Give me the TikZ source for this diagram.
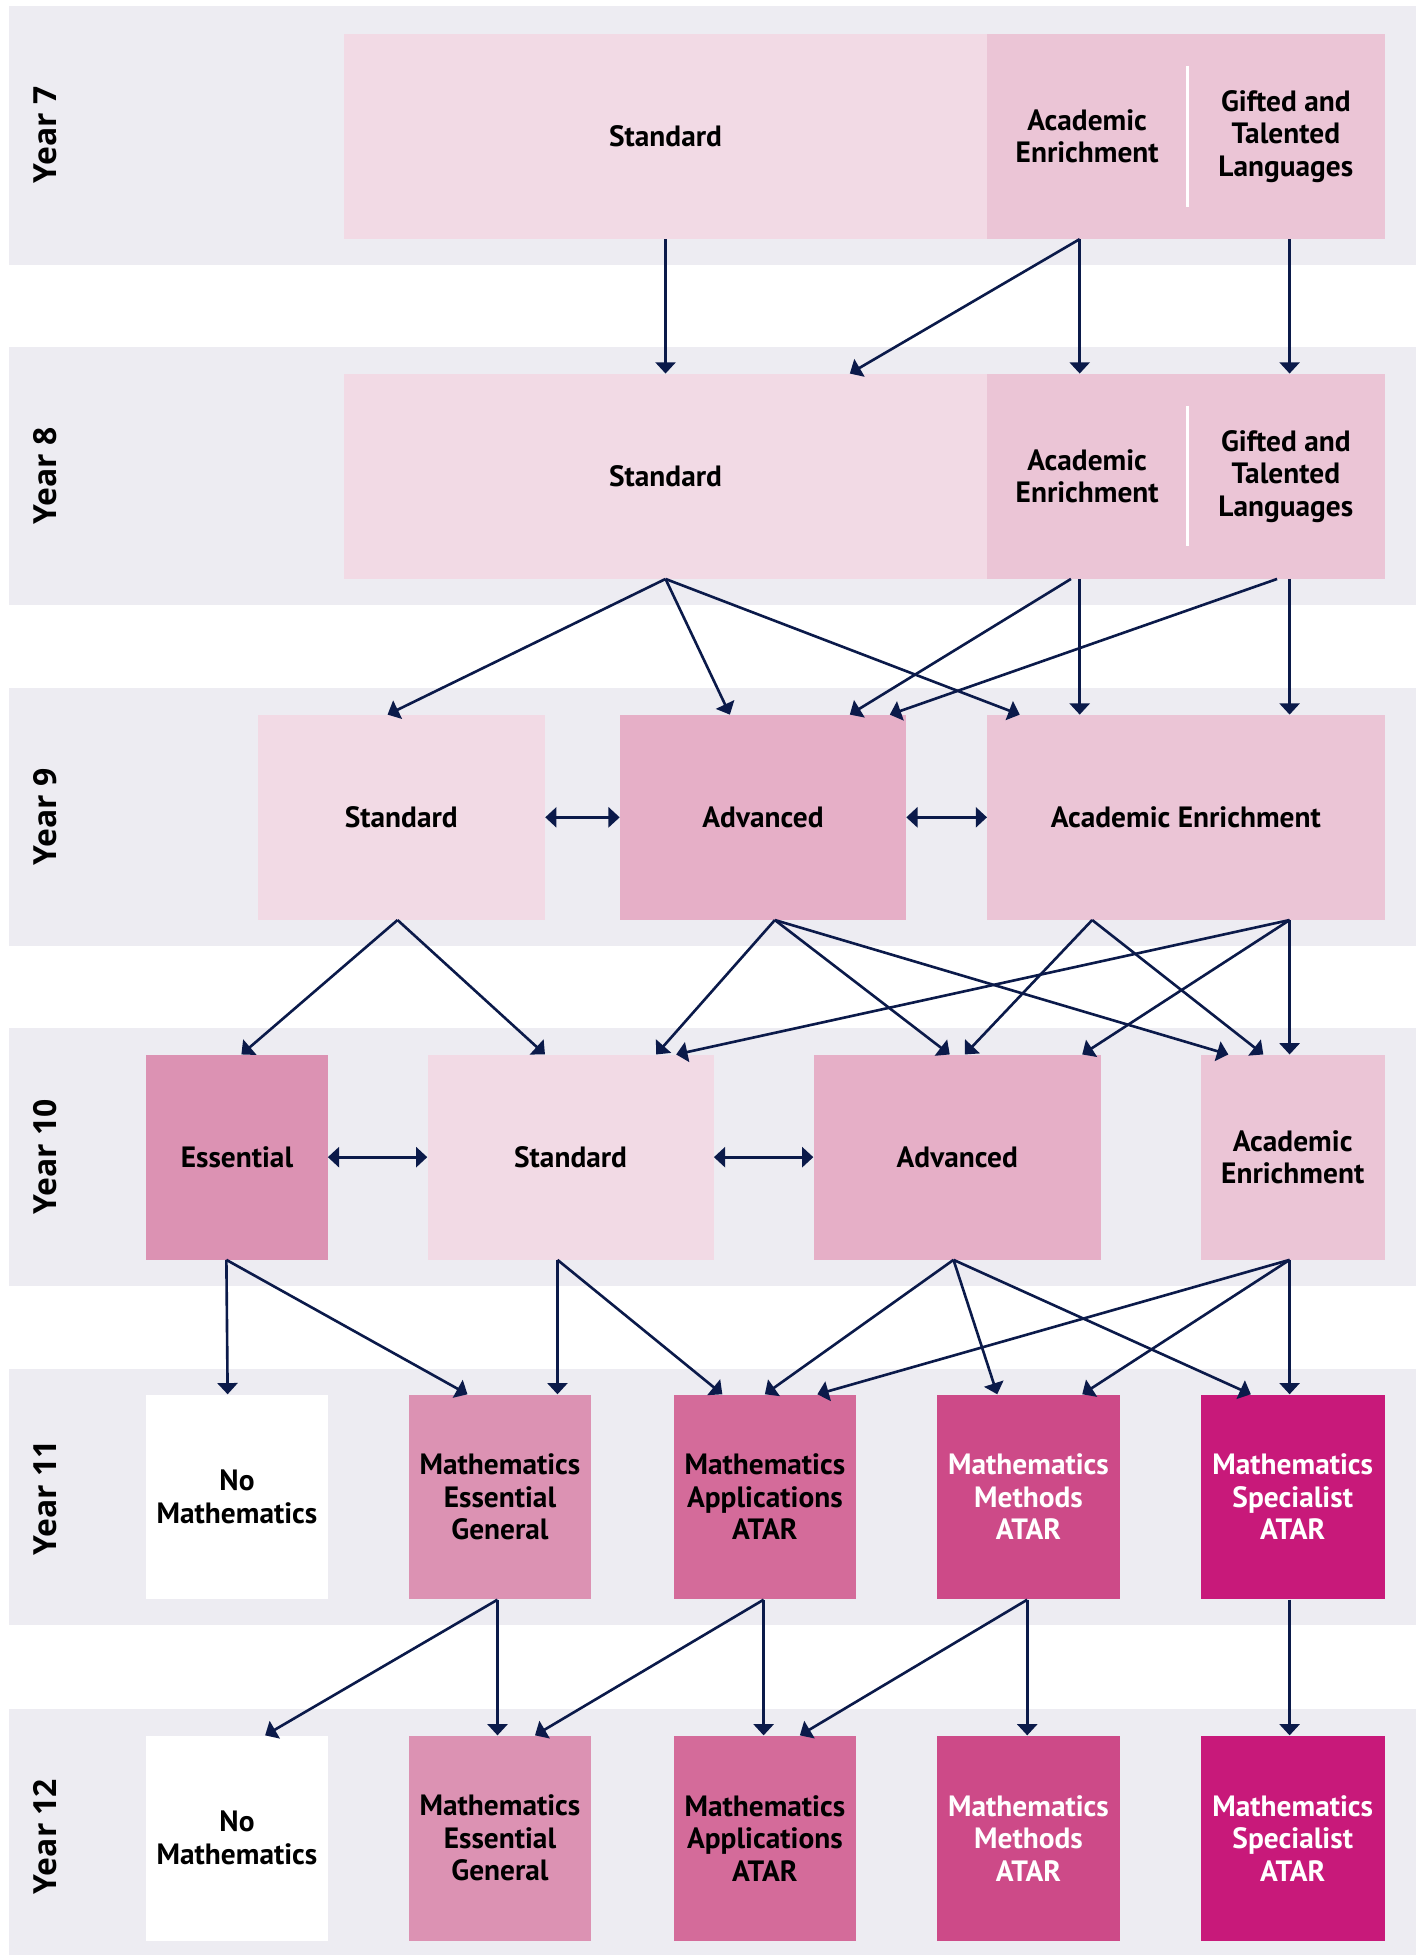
\documentclass[tikz,border=0pt]{standalone}
\usepackage{fontspec}
\setmainfont{PT Sans}
\newfontfamily\yearfont{Open Sans}
\usetikzlibrary{arrows.meta}

\definecolor{bandgray}{HTML}{EDECF2}
\definecolor{pinkA}{HTML}{F2DAE5}
\definecolor{pinkB}{HTML}{EBC5D6}
\definecolor{pinkC}{HTML}{E6AFC7}
\definecolor{pinkD}{HTML}{DC92B3}
\definecolor{pinkE}{HTML}{D46B9A}
\definecolor{pinkF}{HTML}{CD4A88}
\definecolor{pinkG}{HTML}{C8197A}
\definecolor{navy}{HTML}{0B1A4A}

\tikzset{
  band/.style={fill=bandgray},
  box/.style={anchor=north west, inner sep=0, minimum height=164, align=center,
    font=\bfseries\fontsize{23.5}{26}\selectfont},
  yearlbl/.style={rotate=90, font=\yearfont\bfseries\fontsize{25.5}{30}\selectfont},
  arr/.style={draw=navy, line width=2.1pt, -{Triangle[length=9pt,width=16pt]}},
  darr/.style={draw=navy, line width=2.4pt, {Triangle[length=9pt,width=16pt]}-{Triangle[length=9pt,width=16pt]}}
}

\begin{document}
\begin{tikzpicture}[x=1pt, y=-1pt]

\useasboundingbox (0,0) rectangle (1133,1568);

% bands
\fill[band] (7,5) rectangle (1133,212);
\fill[band] (7,278) rectangle (1133,484);
\fill[band] (7,551) rectangle (1133,757);
\fill[band] (7,823) rectangle (1133,1029);
\fill[band] (7,1096) rectangle (1133,1301);
\fill[band] (7,1368) rectangle (1133,1565);

\node[yearlbl] (yr7) at (36,108) {Year 7};
\node[yearlbl] (yr8) at (36,381) {Year 8};
\node[yearlbl] (yr9) at (36,654) {Year 9};
\node[yearlbl] (yr10) at (36,926) {Year 10};
\node[yearlbl] (yr11) at (36,1199) {Year 11};
\node[yearlbl] (yr12) at (36,1470) {Year 12};

% year 7
\node[box, fill=pinkA, minimum width=515] (s7) at (275,27) {Standard};
\node[box, fill=pinkB, minimum width=160] (ae7) at (790,27) {Academic\\Enrichment};
\node[box, fill=pinkB, minimum width=158] (gt7) at (950,27) {Gifted and\\Talented\\Languages};
\draw[white, line width=3pt] ([yshift=-26]ae7.north east) -- ([yshift=26]ae7.south east);

% year 8
\node[box, fill=pinkA, minimum width=515] (s8) at (275,299) {Standard};
\node[box, fill=pinkB, minimum width=160] (ae8) at (790,299) {Academic\\Enrichment};
\node[box, fill=pinkB, minimum width=158] (gt8) at (950,299) {Gifted and\\Talented\\Languages};
\draw[white, line width=3pt] ([yshift=-26]ae8.north east) -- ([yshift=26]ae8.south east);

% year 9
\node[box, fill=pinkA, minimum width=230] (s9) at (206,572) {Standard};
\node[box, fill=pinkC, minimum width=229] (adv9) at (496,572) {Advanced};
\node[box, fill=pinkB, minimum width=318] (ae9) at (790,572) {Academic Enrichment};

% year 10
\node[box, fill=pinkD, minimum width=145] (ess10) at (117,844) {Essential};
\node[box, fill=pinkA, minimum width=229] (s10) at (342,844) {Standard};
\node[box, fill=pinkC, minimum width=230] (adv10) at (651,844) {Advanced};
\node[box, fill=pinkB, minimum width=147] (ae10) at (961,844) {Academic\\Enrichment};

% year 11
\node[box, fill=white, minimum width=145] (nom11) at (117,1116) {No\\Mathematics};
\node[box, fill=pinkD, minimum width=146] (meg11) at (327,1116) {Mathematics\\Essential\\General};
\node[box, fill=pinkE, minimum width=146] (maa11) at (539,1116) {Mathematics\\Applications\\ATAR};
\node[box, fill=pinkF, minimum width=146, text=white] (mma11) at (750,1116) {Mathematics\\Methods\\ATAR};
\node[box, fill=pinkG, minimum width=147, text=white] (msa11) at (961,1116) {Mathematics\\Specialist\\ATAR};

% year 12
\node[box, fill=white, minimum width=145] (nom12) at (117,1389) {No\\Mathematics};
\node[box, fill=pinkD, minimum width=146] (meg12) at (327,1389) {Mathematics\\Essential\\General};
\node[box, fill=pinkE, minimum width=146] (maa12) at (539,1389) {Mathematics\\Applications\\ATAR};
\node[box, fill=pinkF, minimum width=146, text=white] (mma12) at (750,1389) {Mathematics\\Methods\\ATAR};
\node[box, fill=pinkG, minimum width=147, text=white] (msa12) at (961,1389) {Mathematics\\Specialist\\ATAR};

% 7 -> 8
\draw[arr] (s7.south) -- (s8.north);
\draw[arr] ([xshift=-6]ae7.south) -- ([xshift=147.5]s8.north);
\draw[arr] ([xshift=-6]ae7.south) -- ([xshift=-6]ae8.north);
\draw[arr] ([xshift=3]gt7.south) -- ([xshift=3]gt8.north);

% 8 -> 9
\draw[arr] (s8.south) -- ([xshift=-11]s9.north);
\draw[arr] (s8.south) -- ([xshift=-26.5]adv9.north);
\draw[arr] (s8.south) -- ([xshift=-133]ae9.north);
\draw[arr] ([xshift=-13]ae8.south) -- ([xshift=69.5]adv9.north);
\draw[arr] ([xshift=-6]ae8.south) -- ([xshift=-85]ae9.north);
\draw[arr] ([xshift=-7]gt8.south) -- ([xshift=101.5]adv9.north);
\draw[arr] ([xshift=3]gt8.south) -- ([xshift=83]ae9.north);

\draw[darr] (s9.east) -- (adv9.west);
\draw[darr] (adv9.east) -- (ae9.west);

% 9 -> 10
\draw[arr] ([xshift=-3]s9.south) -- ([xshift=3.5]ess10.north);
\draw[arr] ([xshift=-3]s9.south) -- ([xshift=-20.5]s10.north);
\draw[arr] ([xshift=9.5]adv9.south) -- ([xshift=68.5]s10.north);
\draw[arr] ([xshift=9.5]adv9.south) -- ([xshift=-6]adv10.north);
\draw[arr] ([xshift=9.5]adv9.south) -- ([xshift=-51.5]ae10.north);
\draw[arr] ([xshift=-75]ae9.south) -- ([xshift=6]adv10.north);
\draw[arr] ([xshift=-75]ae9.south) -- ([xshift=-23.5]ae10.north);
\draw[arr] ([xshift=83]ae9.south) -- ([xshift=84.5]s10.north);
\draw[arr] ([xshift=83]ae9.south) -- ([xshift=100]adv10.north);
\draw[arr] ([xshift=83]ae9.south) -- ([xshift=-2.5]ae10.north);

\draw[darr] (ess10.east) -- (s10.west);
\draw[darr] (s10.east) -- (adv10.west);

% 10 -> 11
\draw[arr] ([xshift=-8.5]ess10.south) -- ([xshift=-7.5]nom11.north);
\draw[arr] ([xshift=-8.5]ess10.south) -- ([xshift=-26]meg11.north);
\draw[arr] ([xshift=-10.5]s10.south) -- ([xshift=46]meg11.north);
\draw[arr] ([xshift=-10.5]s10.south) -- ([xshift=-34]maa11.north);
\draw[arr] ([xshift=-3]adv10.south) -- (maa11.north);
\draw[arr] ([xshift=-3]adv10.south) -- ([xshift=-25]mma11.north);
\draw[arr] ([xshift=-3]adv10.south) -- ([xshift=-33.5]msa11.north);
\draw[arr] ([xshift=-2.5]ae10.south) -- ([xshift=42]maa11.north);
\draw[arr] ([xshift=-2.5]ae10.south) -- ([xshift=43]mma11.north);
\draw[arr] ([xshift=-2.5]ae10.south) -- ([xshift=-2.5]msa11.north);

% 11 -> 12
\draw[arr] ([xshift=-2]meg11.south) -- ([xshift=22.5]nom12.north);
\draw[arr] ([xshift=-2]meg11.south) -- ([xshift=-2]meg12.north);
\draw[arr] ([xshift=-1]maa11.south) -- ([xshift=28]meg12.north);
\draw[arr] ([xshift=-1]maa11.south) -- ([xshift=-1]maa12.north);
\draw[arr] ([xshift=-1]mma11.south) -- ([xshift=28]maa12.north);
\draw[arr] ([xshift=-1]mma11.south) -- ([xshift=-1]mma12.north);
\draw[arr] ([xshift=-2.5]msa11.south) -- ([xshift=-2.5]msa12.north);

\end{tikzpicture}
\end{document}
